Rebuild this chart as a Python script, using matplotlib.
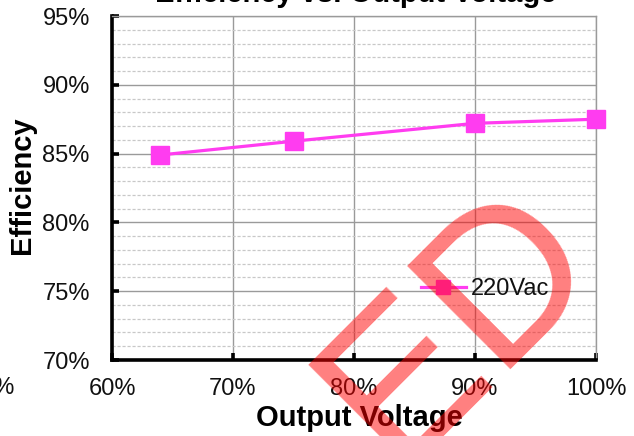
import matplotlib
matplotlib.use("Agg")
import matplotlib.pyplot as plt
from matplotlib.ticker import MultipleLocator, FuncFormatter

plt.rcParams['font.family'] = ['Liberation Sans', 'DejaVu Sans']

# Data
output_voltage = [0.64, 0.75, 0.90, 1.00]
efficiency_220 = [0.849, 0.859, 0.872, 0.875]
series_label = "220Vac"
x_ticks = [0.6, 0.7, 0.8, 0.9, 1.0]
y_ticks = [0.70, 0.75, 0.80, 0.85, 0.90, 0.95]
title = "Efficiency vs. Output Voltage"
xlabel = "Output Voltage"
ylabel = "Efficiency"

W, H = 634, 436
fig = plt.figure(figsize=(W / 100, H / 100), dpi=100)
ax = fig.add_axes([112 / W, 1 - 360 / H, (596 - 112) / W, (360 - 16) / H])

col = '#FF3CF0'
line, = ax.plot(output_voltage, efficiency_220, color=col, lw=2.3, marker='s',
                markersize=12.5, markerfacecolor=col, markeredgecolor=col,
                label=series_label, zorder=5, clip_on=False)

ax.set_xlim(0.6, 1.0)
ax.set_ylim(0.70, 0.95)
ax.set_xticks(x_ticks)
ax.set_yticks(y_ticks)
pct = FuncFormatter(lambda v, p: f"{v*100:.0f}%")
ax.xaxis.set_major_formatter(pct)
ax.yaxis.set_major_formatter(pct)
ax.yaxis.set_minor_locator(MultipleLocator(0.01))

ax.grid(which='major', axis='both', color='#9a9a9a', lw=1.0, ls='-', zorder=0)
ax.grid(which='minor', axis='y', color='#c8c8c8', lw=0.9, ls=(0, (2.5, 1.5)), zorder=0)

for s in ['top', 'right']:
    ax.spines[s].set_color('#9a9a9a')
    ax.spines[s].set_linewidth(1.0)
for s in ['left', 'bottom']:
    ax.spines[s].set_color('black')
    ax.spines[s].set_linewidth(2.6)

ax.tick_params(axis='both', which='major', direction='in', length=5, width=2.6,
               color='black', labelsize=17, labelcolor='#111111')
ax.tick_params(axis='y', which='major', pad=16)
ax.tick_params(axis='x', which='major', pad=13)
ax.tick_params(axis='y', which='minor', length=0)

# stray, cut-off tick label at the far left of the reference
ax.text(0.5, -(386 - 360 - 9) / (360 - 16), "50%", transform=ax.get_xaxis_transform(),
        fontsize=17, color='#111111', ha='center', va='top', clip_on=False)

fig.text(359 / W, 1 - 418 / H, xlabel, fontsize=21, fontweight='bold',
         ha='center', va='center')
fig.text(22 / W, 1 - 185 / H, ylabel, fontsize=21, fontweight='bold',
         ha='center', va='center', rotation=90)
fig.text(356 / W, 1 - 1.5 / H, title, fontsize=21, fontweight='bold',
         ha='center', va='baseline')

leg = ax.legend(loc='center left', bbox_to_anchor=(421 / W, 1 - 289 / H),
                bbox_transform=fig.transFigure, frameon=False, fontsize=17,
                handlelength=1.9, handletextpad=0.2, markerscale=0.85,
                borderpad=0, borderaxespad=0)
for t in leg.get_texts():
    t.set_color('#111111')

# watermark
fig.text(460 / W, 1 - 326 / H, "ED", fontsize=152, color='red', alpha=0.5,
         rotation=45, rotation_mode='anchor',
         ha='center', va='center', zorder=10)

fig.savefig("out.png", dpi=100)
